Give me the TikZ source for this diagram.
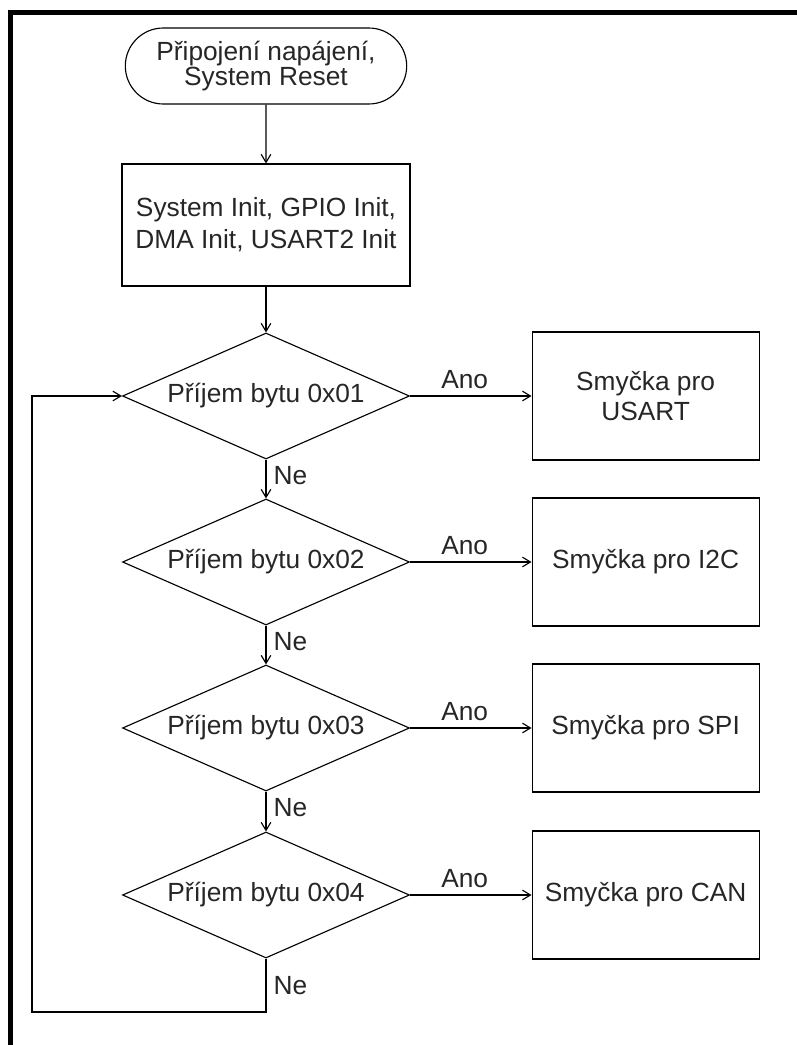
\documentclass[tikz,border=0pt]{standalone}
\usepackage{fontspec}
\setmainfont{Liberation Sans}
\usetikzlibrary{
  shapes.geometric, shapes.misc,
  arrows.meta, positioning
}
\tikzset{
  term/.style={rounded rectangle, draw, line width=0.8pt,
    minimum width=7.175cm, minimum height=1.9cm, align=center,
    inner sep=2pt, font=\fontsize{18.7}{17.5}\selectfont},
  proc/.style={rectangle, draw, line width=0.8pt,
    minimum width=7.2cm, minimum height=3.05cm, align=center,
    inner sep=2pt, font=\fontsize{18.7}{22.7}\selectfont},
  dec/.style={diamond, draw, line width=0.8pt, aspect=2.278,
    minimum width=7.175cm, minimum height=3.15cm, inner sep=0pt},
  loopbox/.style={rectangle, draw, line width=0.8pt,
    minimum width=5.675cm, minimum height=3.2cm, align=center,
    font=\fontsize{18.7}{21.5}\selectfont},
  arr/.style={-{Straight Barb[length=2mm,width=2.4mm]}, line width=0.8pt},
  lbl/.style={inner sep=5pt},
}

\begin{document}
\begin{tikzpicture}[every node/.style={font=\fontsize{18.7}{22}\selectfont,
                    text=black!85}]
  \useasboundingbox (0,0) rectangle (19.925,-26.125);

  % ---- frame ----
  \draw[line width=3.9pt, line join=miter] (0.26,-26.5) -- (0.26,-0.31) -- (20.3,-0.31);

  % ---- start ----
  \node[term] (start) at (6.65,-1.65)
        {Připojení napájení,\\System Reset};

  % ---- init ----
  \node[proc] (init) at (6.65,-5.625)
        {System Init, GPIO Init,\\DMA Init, USART2 Init};

  % ---- decisions ----
  \node[dec] (d1) at (6.65,-9.9)   {Příjem bytu 0x01};
  \node[dec] (d2) at (6.65,-14.05) {Příjem bytu 0x02};
  \node[dec] (d3) at (6.65,-18.2)  {Příjem bytu 0x03};
  \node[dec] (d4) at (6.65,-22.375){Příjem bytu 0x04};

  % ---- loops ----
  \node[loopbox] (usart) at (16.14,-9.9)   {Smyčka pro\\USART};
  \node[loopbox] (iic)   at (16.14,-14.05) {Smyčka pro I2C};
  \node[loopbox] (spi)   at (16.14,-18.2)  {Smyčka pro SPI};
  \node[loopbox] (can)   at (16.14,-22.375){Smyčka pro CAN};

  \coordinate (back) at (0.8,-25.3);

  % ---- Arrows ----
  \draw[arr] (start) -- (init);
  \draw[arr] (init)  -- (d1);
  \draw[arr] (d1) -- node[lbl, right, pos=0.4] {Ne} (d2);
  \draw[arr] (d2) -- node[lbl, right, pos=0.4] {Ne} (d3);
  \draw[arr] (d3) -- node[lbl, right, pos=0.4] {Ne} (d4);
  \draw[arr] (d1) -- node[lbl, above, pos=0.45] {Ano} (usart);
  \draw[arr] (d2) -- node[lbl, above, pos=0.45] {Ano} (iic);
  \draw[arr] (d3) -- node[lbl, above, pos=0.45] {Ano} (spi);
  \draw[arr] (d4) -- node[lbl, above, pos=0.45] {Ano} (can);
  \draw[arr] (d4.south) |- node[lbl, right, pos=0.25] {Ne} (back)
             |- (d1.west);
\end{tikzpicture}
\end{document}
